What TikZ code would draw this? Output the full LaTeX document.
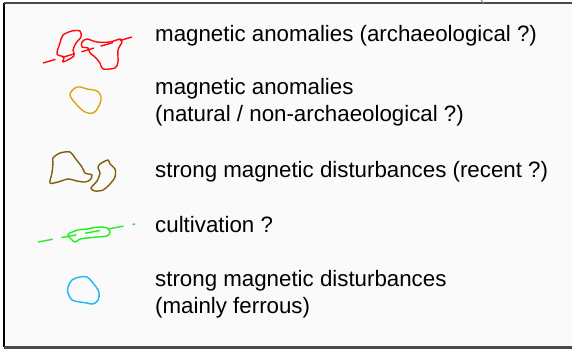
\documentclass[tikz,border=0pt]{standalone}
\usepackage{fontspec}
\setmainfont{Liberation Sans}
\usetikzlibrary{positioning}
\definecolor{paper}{HTML}{FAFAFA}
\definecolor{frameink}{HTML}{4A4A4A}
\definecolor{archred}{HTML}{FF0A0A}
\definecolor{natgold}{HTML}{DAA418}
\definecolor{recbrown}{HTML}{7F5E10}
\definecolor{cultgreen}{HTML}{22EE22}
\definecolor{ferrblue}{HTML}{1EB6F8}
\tikzset{lbl/.style={anchor=base west,align=left,inner sep=0pt,
  font=\fontsize{22.3}{26.5}\selectfont},
  blob/.style={line width=1.4pt,line join=round},
  hatchline/.style={line width=1.4pt,dash pattern=on 13pt off 7pt}}

\begin{document}
\begin{tikzpicture}[x=1pt,y=-1pt]
\useasboundingbox (0,0) rectangle (572,354);
% legend frame
\fill[paper] (4,3) rectangle (572,347);
\draw[line width=1.2pt] (4,3) -- (4,347);
\draw[frameink,line width=1.5pt] (4,3) -- (572,3);
\draw[frameink,line width=3pt] (4,347.5) -- (572,347.5);
\draw[gray,line width=0.8pt] (481,0) -- (484,4);
% symbols
\draw[archred,blob] plot[smooth cycle,tension=0.5] coordinates {(63,35) (72,31) (80,31) (81,37)
  (76,43) (73,50) (74,56) (63,62) (64,57) (57,54) (60,43)};
\draw[archred,blob] plot[smooth cycle,tension=0.5] coordinates {(82,42) (87,39) (97,42) (110,42)
  (120,39) (122,42) (118,50) (118,62) (115,68) (103,69) (100,63) (95,57) (90,53) (88,48) (82,47)};
\draw[archred,hatchline] (43,63) -- (132,37);
\draw[natgold,blob] plot[smooth cycle,tension=0.6] coordinates {(70,95) (75,88) (80,87) (87,89)
  (97,91) (101,97) (99,106) (93,113) (85,112) (77,105)};
\draw[recbrown,blob] plot[smooth cycle,tension=0.5] coordinates {(53,158) (60,153) (70,152) (75,158)
  (82,167) (85,173) (92,175) (90,180) (85,182) (77,181) (68,179) (58,182) (50,183) (52,173) (53,163)};
\draw[recbrown,blob] plot[smooth cycle,tension=0.5] coordinates {(100,164) (108,160) (110,164)
  (115,169) (115,177) (110,184) (103,190) (95,191) (91,188) (97,181) (100,173) (98,168)};
\draw[cultgreen,blob] plot[smooth cycle,tension=0.5] coordinates {(70,233) (78,230) (87,229)
  (92,228) (100,227) (107,228) (110,232) (107,236) (97,237) (87,238) (80,239) (75,242) (70,238) (68,235)};
\draw[cultgreen,hatchline,dash pattern=on 15pt off 9pt] (38,242) -- (135,224);
\draw[ferrblue,blob] plot[smooth cycle,tension=0.6] coordinates {(72,280) (80,277) (87,277)
  (93,283) (99,292) (98,300) (93,304) (87,303) (80,302) (72,300) (68,293) (68,287)};
% labels
\node[lbl] (archaeo) at (155,41) {magnetic anomalies (archaeological ?)};
\node[lbl] (natural) at (155,121) {magnetic anomalies\\(natural / non-archaeological ?)};
\node[lbl] (recent) at (155,177) {strong magnetic disturbances (recent ?)};
\node[lbl] (cultiv) at (155,232) {cultivation ?};
\node[lbl] (ferrous) at (155,313) {strong magnetic disturbances\\(mainly ferrous)};
\end{tikzpicture}
\end{document}
